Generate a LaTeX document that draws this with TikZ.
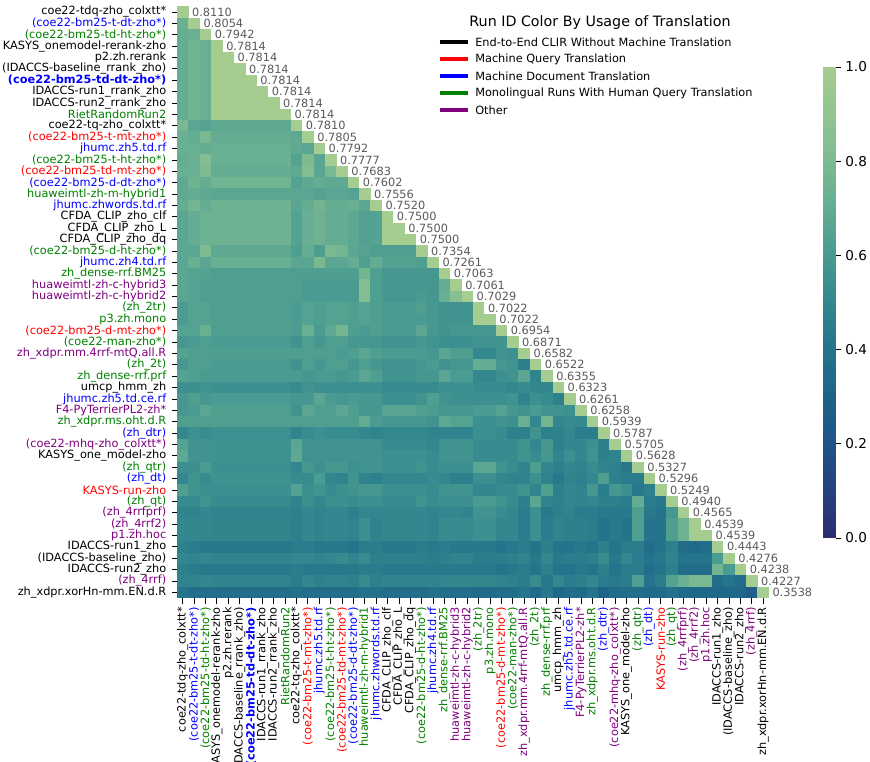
\documentclass[tikz,border=0pt]{standalone}
\usepackage{fontspec}
\setmainfont{DejaVu Sans}
\definecolor{crest0}{RGB}{44,48,113}
\definecolor{crest1}{RGB}{38,66,128}
\definecolor{crest2}{RGB}{31,84,134}
\definecolor{crest3}{RGB}{30,100,137}
\definecolor{crest4}{RGB}{36,117,139}
\definecolor{crest5}{RGB}{50,136,142}
\definecolor{crest6}{RGB}{74,155,145}
\definecolor{crest7}{RGB}{100,173,146}
\definecolor{crest8}{RGB}{127,187,145}
\definecolor{crest9}{RGB}{148,197,144}
\definecolor{crest10}{RGB}{165,205,144}
\definecolor{crest11}{RGB}{165,205,144}
\definecolor{mgreen}{RGB}{0,128,0}
\definecolor{mpurple}{RGB}{128,0,128}
\definecolor{valgray}{RGB}{90,90,90}
\newcommand\lf{\fontsize{8.5}{10}\selectfont}
\newcommand\setcrest[1]{%
  \pgfmathtruncatemacro\clo{#1/10}%
  \pgfmathtruncatemacro\chi{\clo+1}%
  \pgfmathtruncatemacro\cfr{(#1-10*\clo)*10}%
  \colorlet{cellc}{crest\chi!\cfr!crest\clo}}
\newcommand\cellfill[3]{%
  \setcrest{#3}%
  \fill[cellc] ({177+(#2-1)*11.38},{6.3+(#1-1)*11.38}) rectangle ++(11.6,11.6);}
\newcommand\hrow[2]{%
  \foreach \v [count=\c] in {#2} {\cellfill{#1}{\c}{\v}}%
  \cellfill{#1}{#1}{100}}
\newcommand\runlabel[4]{%
  \node[ylab,#2] (y#1) at (166.5,{6.3+(#1-0.5)*11.38}) {#3};
  \node[xlab,#2] (x#1) at ({177+(#1-0.5)*11.38},607) {#3};
  \node[vlab] (v#1) at ({177+#1*11.38+3.5},{6.3+(#1-0.5)*11.38}) {#4};
  \draw[tk] (171.5,{6.3+(#1-0.5)*11.38}) -- (177,{6.3+(#1-0.5)*11.38});
  \draw[tk] ({177+(#1-0.5)*11.38},598.1) -- ({177+(#1-0.5)*11.38},603.6);}
\tikzset{
  ylab/.style={anchor=east,inner sep=0pt,font=\lf},
  xlab/.style={anchor=east,rotate=90,inner sep=0pt,font=\lf},
  vlab/.style={anchor=west,inner sep=0pt,font=\lf,text=valgray},
  tk/.style={line width=0.6pt,black},
  lk/.style={text=black}, lr/.style={text=red}, lb/.style={text=blue},
  lg/.style={text=mgreen}, lp/.style={text=mpurple},
  lbb/.style={text=blue,font=\lf\bfseries},
  leghandle/.style={line width=3pt},
  legtext/.style={anchor=west,inner sep=0pt,font=\lf},
}
\begin{document}
\begin{tikzpicture}[x=0.75pt,y=-0.75pt]
\fill[white] (0,0) rectangle (870,761);
\useasboundingbox (0,0) rectangle (870,761);
% heatmap cells
\cellfill{1}{1}{100}
\hrow{2}{72}
\hrow{3}{70,72}
\hrow{4}{70,75,72}
\hrow{5}{70,75,72,100}
\hrow{6}{70,75,72,100,100}
\hrow{7}{70,75,72,100,100,100}
\hrow{8}{70,75,72,100,100,100,100}
\hrow{9}{70,75,72,100,100,100,100,100}
\hrow{10}{70,75,72,100,100,100,100,100,100}
\hrow{11}{78,66,64,68,68,68,68,68,68,68}
\hrow{12}{72,70,78,70,70,70,70,70,70,70,68}
\hrow{13}{72,72,70,72,72,72,72,72,72,72,68,66}
\hrow{14}{70,72,82,72,72,72,72,72,72,72,64,80,66}
\hrow{15}{72,72,80,70,70,70,70,70,70,70,68,82,66,78}
\hrow{16}{68,74,70,75,75,75,75,75,75,75,64,68,70,68,68}
\hrow{17}{68,70,68,66,66,66,66,66,66,66,66,66,64,66,66,64}
\hrow{18}{70,76,70,74,74,74,74,74,74,74,66,70,76,70,70,72,66}
\hrow{19}{66,70,73,74,74,74,74,74,74,74,64,71,74,70,70,67,63,64}
\hrow{20}{66,70,73,74,74,74,74,74,74,74,64,71,74,70,70,67,63,64,100}
\hrow{21}{66,70,73,74,74,74,74,74,74,74,64,71,74,70,70,67,63,64,100,100}
\hrow{22}{66,66,80,68,68,68,68,68,68,68,62,70,62,78,76,66,64,62,62,62,62}
\hrow{23}{66,72,66,72,72,72,72,72,72,72,66,66,78,66,66,70,62,70,64,64,64,62}
\hrow{24}{66,64,64,62,62,62,62,62,62,62,62,62,62,62,62,62,76,62,58,58,58,58,58}
\hrow{25}{66,64,62,62,62,62,62,62,62,62,62,60,60,60,60,60,82,62,58,58,58,58,58,70}
\hrow{26}{66,64,62,62,62,62,62,62,62,62,62,60,60,60,60,60,82,62,58,58,58,60,58,72,84}
\hrow{27}{60,64,64,62,62,62,62,62,62,62,60,64,62,64,64,62,64,62,60,60,60,62,58,56,56,56}
\hrow{28}{60,64,64,62,62,62,62,62,62,62,60,64,62,64,64,62,64,62,60,60,60,60,58,56,56,56,100}
\hrow{29}{64,64,72,62,62,62,62,62,62,62,60,72,60,68,76,62,60,62,60,60,60,66,58,56,58,58,58,58}
\hrow{30}{58,60,62,60,60,60,60,60,60,60,56,62,58,62,62,58,58,58,56,56,56,58,56,54,54,54,56,56,56}
\hrow{31}{64,62,62,62,62,62,62,62,62,62,62,62,62,62,60,62,66,62,60,60,60,60,58,66,62,62,50,50,56,54}
\hrow{32}{58,62,62,60,60,60,60,60,60,60,56,62,58,62,62,58,62,58,56,56,56,58,60,56,58,58,70,70,58,56,46}
\hrow{33}{64,62,60,60,60,60,60,60,60,60,60,58,60,60,58,60,66,62,56,56,56,58,58,66,60,60,50,50,54,56,66,48}
\hrow{34}{54,54,56,54,54,54,54,54,54,54,52,56,54,54,54,54,54,54,52,52,52,52,52,54,54,54,52,52,52,50,52,50,50}
\hrow{35}{58,62,58,60,60,60,60,60,60,60,58,58,66,60,58,60,58,58,54,54,54,56,62,56,54,54,54,54,54,56,48,54,52,46}
\hrow{36}{58,60,66,62,62,62,62,62,62,62,56,66,62,62,66,62,58,58,65,65,65,62,60,58,58,58,60,60,64,58,56,60,56,56,54}
\hrow{37}{62,62,62,62,62,62,62,62,62,62,62,62,62,62,62,62,70,60,58,58,58,58,56,68,64,64,54,54,56,54,72,50,76,50,52,51}
\hrow{38}{50,54,52,54,54,54,54,54,54,54,48,52,54,52,52,52,50,48,50,50,50,50,48,48,48,48,54,54,52,46,46,56,46,46,50,44,44}
\hrow{39}{64,56,56,55,55,55,55,55,55,55,66,56,56,56,56,56,56,56,52,52,52,52,50,56,56,56,52,52,52,52,56,50,58,46,50,50,54,46}
\hrow{40}{68,56,56,55,55,55,55,55,55,55,68,56,56,56,56,56,56,56,54,54,54,54,52,56,56,56,52,52,52,52,56,52,58,48,54,50,56,46,48}
\hrow{41}{54,54,60,54,54,54,54,54,54,54,50,58,54,58,58,54,56,56,54,54,54,56,52,54,54,54,66,66,56,52,48,62,50,46,50,48,52,48,46,42}
\hrow{42}{50,56,52,55,55,55,55,55,55,55,52,52,60,50,48,56,48,46,50,50,50,50,52,50,46,46,54,54,50,48,48,54,48,42,48,46,50,62,46,44,44}
\hrow{43}{62,56,54,54,54,54,54,54,54,54,64,54,56,52,54,56,58,58,54,54,54,54,52,56,56,56,50,50,52,52,56,48,62,46,50,48,58,44,58,54,42,46}
\hrow{44}{52,52,56,52,52,52,52,52,52,52,48,54,50,54,54,52,54,54,52,52,52,56,52,54,54,54,60,60,56,52,46,66,48,46,50,48,50,46,46,44,70,44,42}
\hrow{45}{48,48,50,48,48,48,48,48,48,48,46,50,48,50,50,46,50,50,50,50,50,50,48,50,50,48,56,56,52,50,44,54,42,46,48,44,44,42,42,42,62,42,40,58}
\hrow{46}{50,50,50,49,49,49,49,49,49,49,46,50,48,50,50,48,54,48,50,50,50,50,48,52,52,52,54,54,50,50,44,54,44,48,46,46,44,40,42,40,62,40,40,62,74}
\hrow{47}{50,50,50,49,49,49,49,49,49,49,46,50,48,50,50,48,54,48,50,50,50,50,48,52,52,52,54,54,50,50,44,54,44,48,46,46,44,40,42,40,62,40,40,62,74,100}
\hrow{48}{46,44,42,42,42,42,42,42,42,42,44,44,42,42,42,40,44,44,42,42,42,44,42,44,42,42,42,42,40,42,44,40,46,40,40,42,40,46,40,44,44,36,40,46,36,34,36}
\hrow{49}{50,48,50,48,48,48,48,48,48,48,50,50,48,50,52,48,52,46,46,46,46,46,44,46,48,48,44,44,44,46,48,42,50,42,44,44,46,52,42,50,44,40,42,48,40,40,40,60}
\hrow{50}{46,44,42,42,42,42,42,42,42,42,44,42,42,42,42,42,44,44,42,42,42,42,42,42,42,42,42,42,40,42,44,40,46,40,40,42,40,46,40,44,44,36,40,46,36,36,36,76,60}
\hrow{51}{48,48,50,48,48,48,48,48,48,48,44,50,46,48,48,46,52,46,48,48,48,48,48,50,50,50,50,50,48,46,44,52,42,50,44,46,50,44,42,44,62,40,44,64,72,78,78,36,40,36}
\hrow{52}{40,36,36,36,36,36,36,36,36,36,38,36,36,36,36,36,38,38,36,36,36,36,38,36,36,36,34,34,36,36,40,34,42,32,36,34,40,30,34,36,36,34,34,38,34,32,32,32,32,32,26}
% labels
\runlabel{1}{lk}{coe22-tdq-zho\_colxtt*}{0.8110}
\runlabel{2}{lb}{(coe22-bm25-t-dt-zho*)}{0.8054}
\runlabel{3}{lg}{(coe22-bm25-td-ht-zho*)}{0.7942}
\runlabel{4}{lk}{KASYS\_onemodel-rerank-zho}{0.7814}
\runlabel{5}{lk}{p2.zh.rerank}{0.7814}
\runlabel{6}{lk}{(IDACCS-baseline\_rrank\_zho)}{0.7814}
\runlabel{7}{lbb}{(coe22-bm25-td-dt-zho*)}{0.7814}
\runlabel{8}{lk}{IDACCS-run1\_rrank\_zho}{0.7814}
\runlabel{9}{lk}{IDACCS-run2\_rrank\_zho}{0.7814}
\runlabel{10}{lg}{RietRandomRun2}{0.7814}
\runlabel{11}{lk}{coe22-tq-zho\_colxtt*}{0.7810}
\runlabel{12}{lr}{(coe22-bm25-t-mt-zho*)}{0.7805}
\runlabel{13}{lb}{jhumc.zh5.td.rf}{0.7792}
\runlabel{14}{lg}{(coe22-bm25-t-ht-zho*)}{0.7777}
\runlabel{15}{lr}{(coe22-bm25-td-mt-zho*)}{0.7683}
\runlabel{16}{lb}{(coe22-bm25-d-dt-zho*)}{0.7602}
\runlabel{17}{lg}{huaweimtl-zh-m-hybrid1}{0.7556}
\runlabel{18}{lb}{jhumc.zhwords.td.rf}{0.7520}
\runlabel{19}{lk}{CFDA\_CLIP\_zho\_clf}{0.7500}
\runlabel{20}{lk}{CFDA\_CLIP\_zho\_L}{0.7500}
\runlabel{21}{lk}{CFDA\_CLIP\_zho\_dq}{0.7500}
\runlabel{22}{lg}{(coe22-bm25-d-ht-zho*)}{0.7354}
\runlabel{23}{lb}{jhumc.zh4.td.rf}{0.7261}
\runlabel{24}{lg}{zh\_dense-rrf.BM25}{0.7063}
\runlabel{25}{lp}{huaweimtl-zh-c-hybrid3}{0.7061}
\runlabel{26}{lp}{huaweimtl-zh-c-hybrid2}{0.7029}
\runlabel{27}{lg}{(zh\_2tr)}{0.7022}
\runlabel{28}{lg}{p3.zh.mono}{0.7022}
\runlabel{29}{lr}{(coe22-bm25-d-mt-zho*)}{0.6954}
\runlabel{30}{lg}{(coe22-man-zho*)}{0.6871}
\runlabel{31}{lp}{zh\_xdpr.mm.4rrf-mtQ.all.R}{0.6582}
\runlabel{32}{lg}{(zh\_2t)}{0.6522}
\runlabel{33}{lg}{zh\_dense-rrf.prf}{0.6355}
\runlabel{34}{lk}{umcp\_hmm\_zh}{0.6323}
\runlabel{35}{lb}{jhumc.zh5.td.ce.rf}{0.6261}
\runlabel{36}{lp}{F4-PyTerrierPL2-zh*}{0.6258}
\runlabel{37}{lg}{zh\_xdpr.ms.oht.d.R}{0.5939}
\runlabel{38}{lb}{(zh\_dtr)}{0.5787}
\runlabel{39}{lp}{(coe22-mhq-zho\_colxtt*)}{0.5705}
\runlabel{40}{lk}{KASYS\_one\_model-zho}{0.5628}
\runlabel{41}{lg}{(zh\_qtr)}{0.5327}
\runlabel{42}{lb}{(zh\_dt)}{0.5296}
\runlabel{43}{lr}{KASYS-run-zho}{0.5249}
\runlabel{44}{lg}{(zh\_qt)}{0.4940}
\runlabel{45}{lp}{(zh\_4rrfprf)}{0.4565}
\runlabel{46}{lp}{(zh\_4rrf2)}{0.4539}
\runlabel{47}{lp}{p1.zh.hoc}{0.4539}
\runlabel{48}{lk}{IDACCS-run1\_zho}{0.4443}
\runlabel{49}{lk}{(IDACCS-baseline\_zho)}{0.4276}
\runlabel{50}{lk}{IDACCS-run2\_zho}{0.4238}
\runlabel{51}{lp}{(zh\_4rrf)}{0.4227}
\runlabel{52}{lk}{zh\_xdpr.xorHn-mm.EN.d.R}{0.3538}
% legend
\node[font=\fontsize{10.7}{12}\selectfont,inner sep=0pt] (legtitle) at (600,23) {Run ID Color By Usage of Translation};
\coordinate (h1a) at (439.5,42); \coordinate (h1b) at (467.5,42);
\coordinate (h2a) at (439.5,59); \coordinate (h2b) at (467.5,59);
\coordinate (h3a) at (439.5,76); \coordinate (h3b) at (467.5,76);
\coordinate (h4a) at (439.5,93); \coordinate (h4b) at (467.5,93);
\coordinate (h5a) at (439.5,110); \coordinate (h5b) at (467.5,110);
\draw[leghandle,black] (h1a) -- (h1b);
\draw[leghandle,red] (h2a) -- (h2b);
\draw[leghandle,blue] (h3a) -- (h3b);
\draw[leghandle,mgreen] (h4a) -- (h4b);
\draw[leghandle,mpurple] (h5a) -- (h5b);
\node[legtext] (l1) at (475,42) {End-to-End CLIR Without Machine Translation};
\node[legtext] (l2) at (475,59) {Machine Query Translation};
\node[legtext] (l3) at (475,76) {Machine Document Translation};
\node[legtext] (l4) at (475,93) {Monolingual Runs With Human Query Translation};
\node[legtext] (l5) at (475,110) {Other};
% colorbar
\foreach \i in {0,...,99} {
  \setcrest{\i}
  \fill[cellc] (823,{538-(\i+1)*4.71-0.3}) rectangle (836,{538-\i*4.71});
}
\foreach \t/\lab in {0/0.0,0.2/0.2,0.4/0.4,0.6/0.6,0.8/0.8,1/1.0} {
  \draw[tk] (836,{538-\t*471}) -- (840.5,{538-\t*471});
  \node[anchor=west,inner sep=0pt,font=\fontsize{10.2}{12}\selectfont] at (845,{538-\t*471}) {\lab};
}
\end{tikzpicture}
\end{document}
